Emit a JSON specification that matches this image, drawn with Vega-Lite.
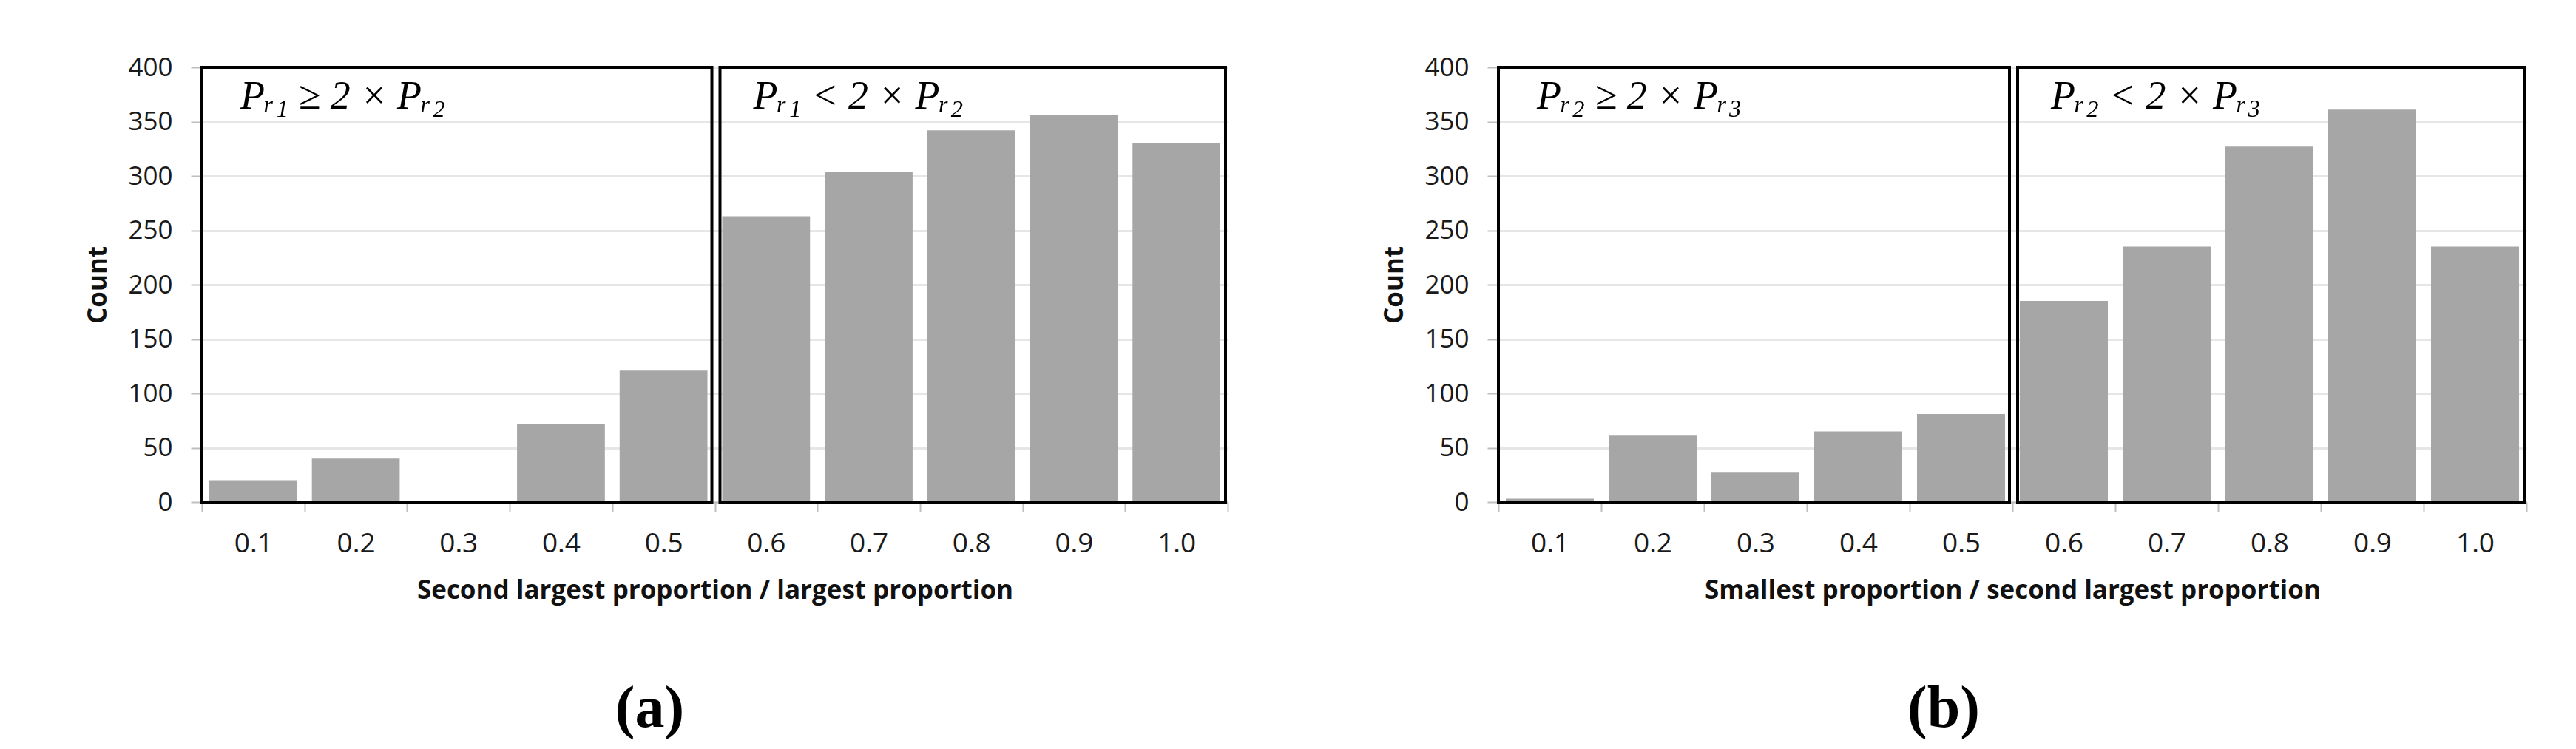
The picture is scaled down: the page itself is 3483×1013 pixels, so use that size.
{
  "$schema": "https://vega.github.io/schema/vega-lite/v6.json",
  "background": "white",
  "padding": {"left": 115, "top": 74, "right": 10, "bottom": 10},
  "spacing": 207,
  "config": {
    "view": {"stroke": null},
    "font": "Open Sans",
    "axis": {
      "labelFont": "Open Sans",
      "titleFont": "Open Sans",
      "labelColor": "#1a1a1a",
      "titleColor": "#111111",
      "tickColor": "#bfbfbf",
      "tickWidth": 2,
      "domainColor": "#bfbfbf",
      "domainWidth": 2,
      "gridColor": "#e6e6e6",
      "gridWidth": 3
    },
    "title": {"font": "Liberation Serif", "fontSize": 80, "fontWeight": "bold", "color": "#000000"}
  },
  "hconcat": [
    {
      "width": 1387,
      "height": 588,
      "title": {"text": "(a)", "orient": "bottom", "anchor": "middle", "frame": "bounds", "offset": 104, "dx": -10},
      "data": {"values": [
        {"bin": "0.1", "count": 20},
        {"bin": "0.2", "count": 40},
        {"bin": "0.3", "count": 0},
        {"bin": "0.4", "count": 72},
        {"bin": "0.5", "count": 121},
        {"bin": "0.6", "count": 263},
        {"bin": "0.7", "count": 304},
        {"bin": "0.8", "count": 342},
        {"bin": "0.9", "count": 356},
        {"bin": "1.0", "count": 330}
      ]},
      "layer": [
        {
          "mark": {"type": "bar", "color": "#a6a6a6", "width": {"band": 0.856}},
          "encoding": {
            "x": {"field": "bin", "type": "ordinal", "sort": null,
              "scale": {"paddingInner": 0, "paddingOuter": 0},
              "axis": {"title": "Second largest proportion / largest proportion", "labelAngle": 0, "tickBand": "extent", "tickSize": 13, "labelFontSize": 37, "labelPadding": 25, "titleFontSize": 35, "titleFontWeight": "bold", "titlePadding": 28, "grid": false}},
            "y": {"field": "count", "type": "quantitative",
              "scale": {"domain": [0, 400], "nice": false},
              "axis": {"title": "Count", "values": [0, 50, 100, 150, 200, 250, 300, 350, 400], "tickSize": 15, "labelFontSize": 35, "labelPadding": 25, "titleFontSize": 35, "titleFontWeight": "bold", "titlePadding": 22, "domain": false, "grid": true}}
          }
        },
        {
          "data": {"values": [{"from": "0.1", "to": "0.5", "top": 400, "bottom": 0}]},
          "mark": {"type": "rect", "filled": false, "stroke": "#000000", "strokeWidth": 4, "x2Offset": -4},
          "encoding": {
            "x": {"field": "from", "type": "ordinal", "bandPosition": 0},
            "x2": {"field": "to", "bandPosition": 1},
            "y": {"field": "top", "type": "quantitative"},
            "y2": {"field": "bottom"}
          }
        },
        {
          "data": {"values": [{"from": "0.6", "to": "1.0", "top": 400, "bottom": 0}]},
          "mark": {"type": "rect", "filled": false, "stroke": "#000000", "strokeWidth": 4, "xOffset": 7, "x2Offset": -3},
          "encoding": {
            "x": {"field": "from", "type": "ordinal", "bandPosition": 0},
            "x2": {"field": "to", "bandPosition": 1},
            "y": {"field": "top", "type": "quantitative"},
            "y2": {"field": "bottom"}
          }
        },
        {
          "data": {"values": [
            {"bin": "0.1", "label": "Pᵣ₁  ≥ 2 × Pᵣ₂", "level": 362},
            {"bin": "0.6", "label": "Pᵣ₁  < 2 × Pᵣ₂", "level": 362}
          ]},
          "mark": {"type": "text", "align": "left", "baseline": "alphabetic", "dx": 52, "font": "Liberation Serif", "fontStyle": "italic", "fontSize": 54, "color": "#000000"},
          "encoding": {
            "x": {"field": "bin", "type": "ordinal", "bandPosition": 0},
            "y": {"field": "level", "type": "quantitative"},
            "text": {"field": "label"}
          }
        }
      ]
    },
    {
      "width": 1390,
      "height": 588,
      "title": {"text": "(b)", "orient": "bottom", "anchor": "middle", "frame": "bounds", "offset": 104, "dx": -15},
      "data": {"values": [
        {"bin": "0.1", "count": 3},
        {"bin": "0.2", "count": 61},
        {"bin": "0.3", "count": 27},
        {"bin": "0.4", "count": 65},
        {"bin": "0.5", "count": 81},
        {"bin": "0.6", "count": 185},
        {"bin": "0.7", "count": 235},
        {"bin": "0.8", "count": 327},
        {"bin": "0.9", "count": 361},
        {"bin": "1.0", "count": 235}
      ]},
      "layer": [
        {
          "mark": {"type": "bar", "color": "#a6a6a6", "width": {"band": 0.856}},
          "encoding": {
            "x": {"field": "bin", "type": "ordinal", "sort": null,
              "scale": {"paddingInner": 0, "paddingOuter": 0},
              "axis": {"title": "Smallest proportion / second largest proportion", "labelAngle": 0, "tickBand": "extent", "tickSize": 13, "labelFontSize": 37, "labelPadding": 25, "titleFontSize": 35, "titleFontWeight": "bold", "titlePadding": 28, "grid": false}},
            "y": {"field": "count", "type": "quantitative",
              "scale": {"domain": [0, 400], "nice": false},
              "axis": {"title": "Count", "values": [0, 50, 100, 150, 200, 250, 300, 350, 400], "tickSize": 15, "labelFontSize": 35, "labelPadding": 25, "titleFontSize": 35, "titleFontWeight": "bold", "titlePadding": 22, "domain": false, "grid": true}}
          }
        },
        {
          "data": {"values": [{"from": "0.1", "to": "0.5", "top": 400, "bottom": 0}]},
          "mark": {"type": "rect", "filled": false, "stroke": "#000000", "strokeWidth": 4, "x2Offset": -4},
          "encoding": {
            "x": {"field": "from", "type": "ordinal", "bandPosition": 0},
            "x2": {"field": "to", "bandPosition": 1},
            "y": {"field": "top", "type": "quantitative"},
            "y2": {"field": "bottom"}
          }
        },
        {
          "data": {"values": [{"from": "0.6", "to": "1.0", "top": 400, "bottom": 0}]},
          "mark": {"type": "rect", "filled": false, "stroke": "#000000", "strokeWidth": 4, "xOffset": 7, "x2Offset": -3},
          "encoding": {
            "x": {"field": "from", "type": "ordinal", "bandPosition": 0},
            "x2": {"field": "to", "bandPosition": 1},
            "y": {"field": "top", "type": "quantitative"},
            "y2": {"field": "bottom"}
          }
        },
        {
          "data": {"values": [
            {"bin": "0.1", "label": "Pᵣ₂  ≥ 2 × Pᵣ₃", "level": 362},
            {"bin": "0.6", "label": "Pᵣ₂  < 2 × Pᵣ₃", "level": 362}
          ]},
          "mark": {"type": "text", "align": "left", "baseline": "alphabetic", "dx": 52, "font": "Liberation Serif", "fontStyle": "italic", "fontSize": 54, "color": "#000000"},
          "encoding": {
            "x": {"field": "bin", "type": "ordinal", "bandPosition": 0},
            "y": {"field": "level", "type": "quantitative"},
            "text": {"field": "label"}
          }
        }
      ]
    }
  ]
}
